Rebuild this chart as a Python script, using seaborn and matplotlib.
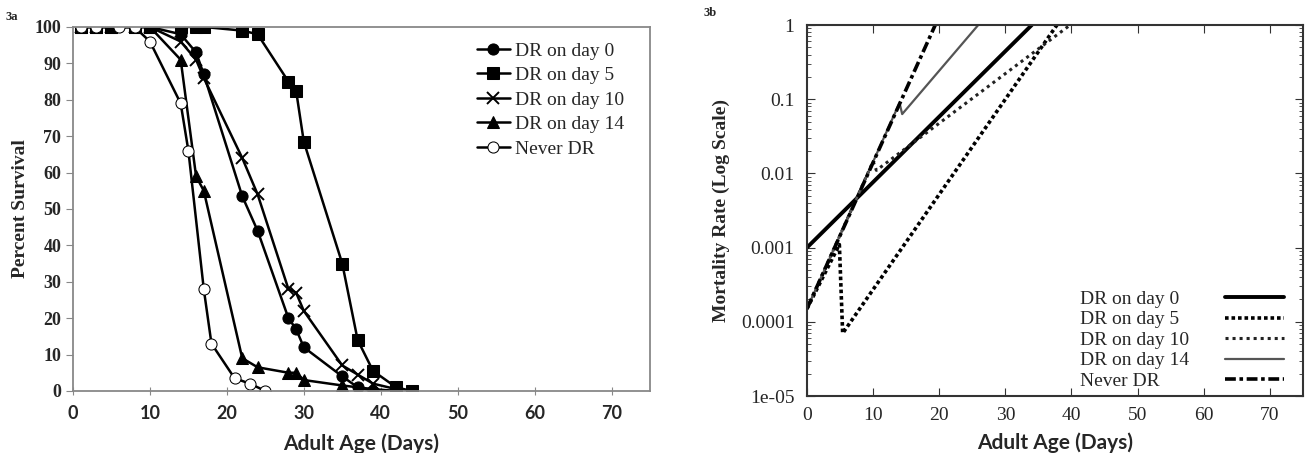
import pandas as pd
import seaborn as sns
import matplotlib.pyplot as plt
import numpy as np

# ---- panel 3a: percent survival ----
labels = ["DR on day 0", "DR on day 5", "DR on day 10", "DR on day 14", "Never DR"]

day0_x = [1, 3, 5, 8, 10, 14, 16, 17, 22, 24, 28, 29, 30, 35, 37, 39, 42]
day0_y = [100, 100, 100, 100, 100, 98, 93, 87, 53.5, 44, 20, 17, 12, 4, 1, 0, 0]

day5_x = [1, 3, 5, 8, 10, 14, 16, 17, 22, 24, 28, 29, 30, 35, 37, 39, 42, 44]
day5_y = [100, 100, 100, 100, 100, 100, 100, 100, 99, 98, 85, 82.5, 68.5, 35, 14, 5.5, 1, 0]

day10_x = [1, 3, 5, 8, 10, 14, 16, 17, 22, 24, 28, 29, 30, 35, 37, 39, 42]
day10_y = [100, 100, 100, 100, 100, 96, 91, 86, 64, 54, 28, 27, 22, 7, 4.5, 2, 0.5]

day14_x = [1, 3, 5, 8, 10, 14, 16, 17, 22, 24, 28, 29, 30, 35, 39, 42]
day14_y = [100, 100, 100, 100, 100, 91, 59, 55, 9, 6.5, 5, 5, 3, 1.5, 0.5, 0]

never_x = [1, 3, 6, 8, 10, 14, 15, 17, 18, 21, 23, 25]
never_y = [100, 100, 100, 100, 96, 79, 66, 28, 13, 3.5, 2, 0]

# ---- panel 3b: fitted mortality rates (breakpoints) ----
m_day0_x = [0, 34]
m_day0_y = [0.001, 1]
m_day5_x = [0, 4.9, 5.4, 37.8]
m_day5_y = [0.00015, 0.0011, 0.00007, 1]
m_day10_x = [0, 10, 10.5, 39.8]
m_day10_y = [0.00015, 0.0145, 0.011, 1]
m_day14_x = [0, 14, 14.4, 25.9]
m_day14_y = [0.00015, 0.089, 0.063, 1]
m_never_x = [0, 19.4]
m_never_y = [0.00015, 1]

sns.set_style("white")
plt.rcParams['font.family'] = ['Liberation Serif', 'DejaVu Serif']
sans = ["Lato", "DejaVu Sans"]

fig = plt.figure(figsize=(13.1, 4.53), dpi=100)
ax1 = fig.add_axes([0.0557, 0.137, 0.4405, 0.8035])
ax2 = fig.add_axes([0.616, 0.1258, 0.3786, 0.819])

surv = [(day0_x, day0_y, dict(marker="o", markersize=8)),
        (day5_x, day5_y, dict(marker="s", markersize=9)),
        (day10_x, day10_y, dict(marker="x", markersize=9, markeredgewidth=1.4)),
        (day14_x, day14_y, dict(marker="^", markersize=8)),
        (never_x, never_y, dict(marker="o", markersize=8, markerfacecolor="white"))]
for (xs, ys, kw), lab in zip(surv, labels):
    sns.lineplot(x=xs, y=ys, ax=ax1, color="black", linewidth=1.8, label=lab,
                 markeredgecolor="black", **kw)

ax1.set_xlim(0, 75)
ax1.set_ylim(0, 100)
ax1.set_xticks(range(0, 71, 10))
ax1.set_yticks(range(0, 101, 10))
for sp in ax1.spines.values():
    sp.set_color("#888888")
    sp.set_linewidth(1.3)
ax1.tick_params(axis="y", direction="out", length=5, color="#888888", labelsize=13, left=True)
ax1.tick_params(axis="x", direction="inout", length=6, color="#888888", labelsize=13,
                bottom=True, pad=7)
for t in ax1.get_yticklabels():
    t.set_fontweight("bold")
for t in ax1.get_xticklabels():
    t.set_family(sans)
    t.set_fontweight("bold")
ax1.set_ylabel("Percent Survival", fontsize=14, fontweight="bold", labelpad=4)
ax1.set_xlabel("Adult Age (Days)", fontsize=15, fontweight="bold", family=sans, labelpad=8)
ax1.legend(loc="upper right", bbox_to_anchor=(0.975, 0.99), frameon=False,
           fontsize=14, handlelength=1.7, handletextpad=0.25, labelspacing=0.35,
           borderaxespad=0.2)

mort = [(m_day0_x, m_day0_y, dict(color="black", linewidth=2.8, linestyle="-")),
        (m_day5_x, m_day5_y, dict(color="black", linewidth=2.6, linestyle=(0, (1, 0.8)))),
        (m_day10_x, m_day10_y, dict(color="#222222", linewidth=2.2, linestyle=(0, (1, 1.3)))),
        (m_day14_x, m_day14_y, dict(color="#555555", linewidth=1.6, linestyle="-")),
        (m_never_x, m_never_y, dict(color="black", linewidth=2.6, linestyle=(0, (3, 1, 1, 1))))]
for (xs, ys, kw), lab in zip(mort, labels):
    sns.lineplot(x=xs, y=ys, ax=ax2, label=lab, **kw)

ax2.set_yscale("log")
ax2.set_xlim(0, 75)
ax2.set_ylim(1e-5, 1)
ax2.set_xticks(range(0, 71, 10))
ax2.set_yticks([1e-5, 1e-4, 1e-3, 1e-2, 1e-1, 1])
ax2.set_yticklabels(["1e-05", "0.0001", "0.001", "0.01", "0.1", "1"])
for sp in ax2.spines.values():
    sp.set_color("#333333")
    sp.set_linewidth(1.5)
ax2.tick_params(which="major", direction="in", length=6, top=True, right=True,
                left=True, bottom=True, labelsize=14, color="#333333")
ax2.tick_params(axis="x", pad=8)
ax2.tick_params(axis="y", pad=9)
ax2.tick_params(which="minor", direction="in", length=3, left=True, right=True, color="#333333")
ax2.set_ylabel("Mortality Rate (Log Scale)", fontsize=14, fontweight="bold", labelpad=8)
ax2.set_xlabel("Adult Age (Days)", fontsize=15, fontweight="bold", family=sans, labelpad=6)

# gnuplot-style key: labels left-aligned, line samples on the right
handles, labs = ax2.get_legend_handles_labels()
key_txt = ax2.legend(handles, labs, loc="lower left", bbox_to_anchor=(0.527, -0.015),
                     frameon=False, fontsize=14, handlelength=0, handletextpad=0,
                     labelspacing=0.15, borderaxespad=0.2)
for h in key_txt.legend_handles:
    h.set_visible(False)
ax2.add_artist(key_txt)
key_lines = ax2.legend(handles, labs, loc="lower right", bbox_to_anchor=(0.985, -0.015),
                       frameon=False, fontsize=14, markerfirst=False, handlelength=3.0,
                       handletextpad=0, labelspacing=0.15, borderaxespad=0.2)
for t in key_lines.get_texts():
    t.set_alpha(0)

fig.text(0.004, 0.955, "3a", fontsize=9, fontweight="bold")
fig.text(0.537, 0.965, "3b", fontsize=9, fontweight="bold")

plt.savefig("out.png", dpi=100)
